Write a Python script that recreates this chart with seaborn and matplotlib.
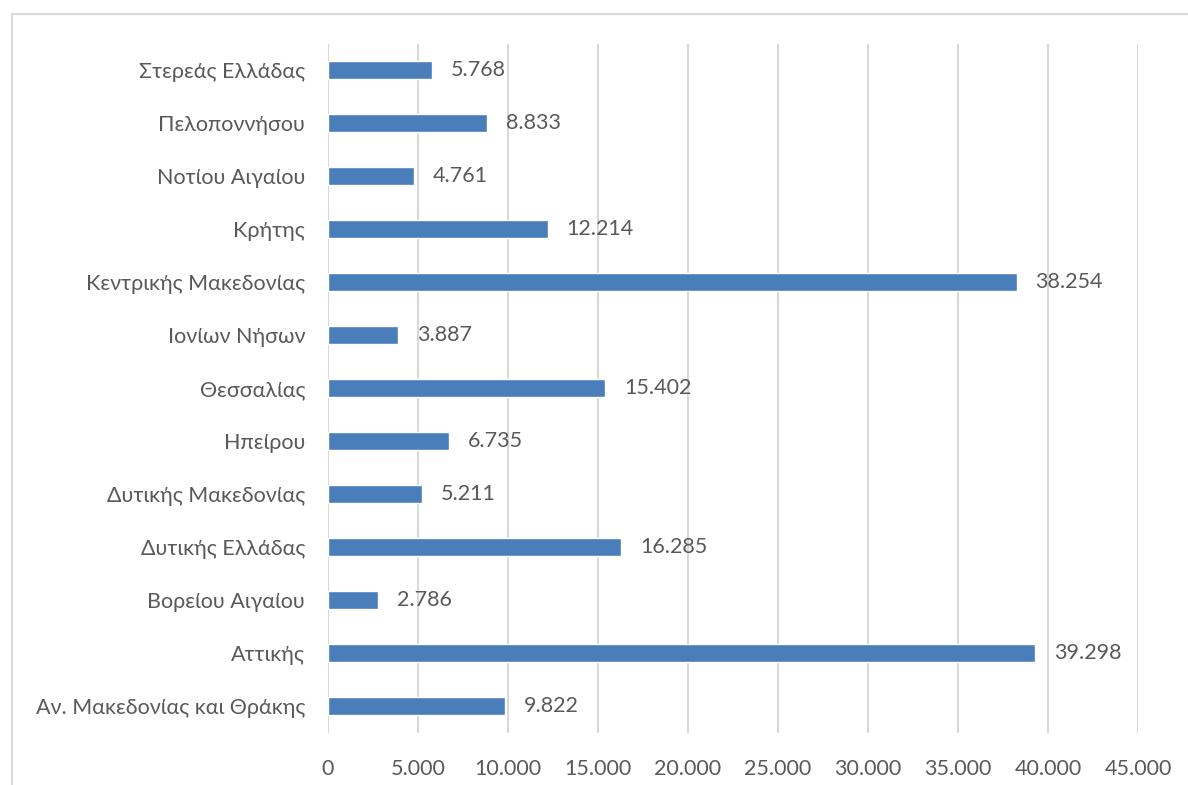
import matplotlib
matplotlib.use("Agg")
import matplotlib.pyplot as plt
import seaborn as sns
import pandas as pd
from matplotlib.patches import Rectangle
from matplotlib.ticker import FuncFormatter, MultipleLocator

regions = ["Στερεάς Ελλάδας", "Πελοποννήσου", "Νοτίου Αιγαίου", "Κρήτης",
           "Κεντρικής Μακεδονίας", "Ιονίων Νήσων", "Θεσσαλίας", "Ηπείρου",
           "Δυτικής Μακεδονίας", "Δυτικής Ελλάδας", "Βορείου Αιγαίου", "Αττικής",
           "Αν. Μακεδονίας και Θράκης"]
values = [5768, 8833, 4761, 12214, 38254, 3887, 15402, 6735, 5211, 16285, 2786, 39298, 9822]

sns.set_theme(style="white")
plt.rcParams['font.family'] = ['Lato', 'DejaVu Sans']

TXT = "#595959"
BAR = "#4A7EBB"
FS = 15.5

def gr(v):
    return f"{int(v):,}".replace(",", ".")

df = pd.DataFrame({"region": regions, "value": values})

fig = plt.figure(figsize=(11.88, 7.85), dpi=100)
fig.patches.append(Rectangle((12/1188, -0.1), 1.2, 1 - 14/785 + 0.1, transform=fig.transFigure,
                             fill=False, edgecolor="#d9d9d9", linewidth=1.5, zorder=0))
ax = fig.add_axes([328/1188, 1 - 732.5/785, 810/1188, 689/785])

sns.barplot(data=df, y="region", x="value", orient="h", color=BAR, width=0.35,
            saturation=1, ax=ax, zorder=3)

ax.set_xlim(0, 45000)
ax.xaxis.set_major_locator(MultipleLocator(5000))
ax.xaxis.set_major_formatter(FuncFormatter(lambda v, p: gr(v)))
ax.grid(axis="x", color="#d9d9d9", linewidth=1.5, zorder=0)
ax.set_axisbelow(True)
for s in ax.spines.values():
    s.set_visible(False)
ax.set_xlabel("")
ax.set_ylabel("")
ax.tick_params(axis="x", length=0, pad=19, labelsize=FS, labelcolor=TXT)
ax.tick_params(axis="y", length=0, pad=16.5, labelsize=FS, labelcolor=TXT)

for cont in ax.containers:
    ax.bar_label(cont, labels=[gr(v) for v in values], padding=13.5, fontsize=FS, color=TXT)

fig.savefig("out.png", dpi=100)
